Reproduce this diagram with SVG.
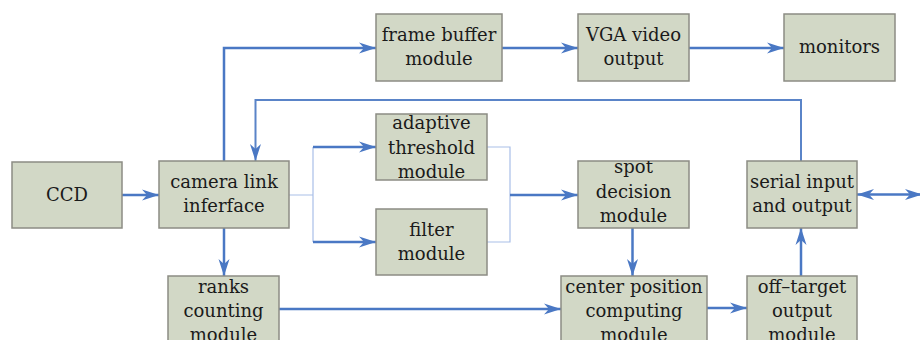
<svg xmlns="http://www.w3.org/2000/svg" width="920" height="340" viewBox="0 0 920 340">
<style>
.box{fill:#d2d8c6;stroke:#8c8c84;stroke-width:1.5}
.t{font-family:"DejaVu Serif","Liberation Serif",serif;font-size:18px;fill:#1a1a1a;text-anchor:middle}
.c{fill:none;stroke:#4a78c4;stroke-width:2.5}
.m{fill:none;stroke:#5a84c8;stroke-width:2}
.thin{fill:none;stroke:#a9bfe8;stroke-width:1.2}
</style>
<defs>
<marker id="ah" markerUnits="userSpaceOnUse" markerWidth="18" markerHeight="12" refX="17" refY="6" orient="auto">
<path d="M0,0.5 L17,6 L0,11.5 L5,6 Z" fill="#4a78c4"/>
</marker>
<marker id="ahs" markerUnits="userSpaceOnUse" markerWidth="18" markerHeight="12" refX="17" refY="6" orient="auto-start-reverse">
<path d="M0,0.5 L17,6 L0,11.5 L5,6 Z" fill="#4a78c4"/>
</marker>
<clipPath id="cAd"><rect x="376" y="114" width="111" height="66"/></clipPath>
<clipPath id="cSp"><rect x="578" y="161" width="111" height="67"/></clipPath>
<clipPath id="cRk"><rect x="168" y="276" width="111" height="70"/></clipPath>
<clipPath id="cCp"><rect x="561" y="276" width="146" height="70"/></clipPath>
<clipPath id="cOt"><rect x="747" y="276" width="110" height="70"/></clipPath>
</defs>

<g id="connectors">
<path class="c" d="M122,195 H159" marker-end="url(#ah)"/>
<path class="c" d="M224,161 V48 H376" marker-end="url(#ah)"/>
<path class="c" d="M502,48 H578" marker-end="url(#ah)"/>
<path class="c" d="M689,48 H784" marker-end="url(#ah)"/>
<path class="m" d="M801,161 V100 H255.5 V161" marker-end="url(#ah)"/>
<path class="thin" d="M289,195 H313 M313,147 V242"/>
<path class="c" d="M313,147 H376" marker-end="url(#ah)"/>
<path class="c" d="M313,242 H376" marker-end="url(#ah)"/>
<path class="thin" d="M487,147 H510 V242 H487"/>
<path class="c" d="M510,195 H578" marker-end="url(#ah)"/>
<path class="c" d="M224,228 V276" marker-end="url(#ah)"/>
<path class="c" d="M279,309 H561" marker-end="url(#ah)"/>
<path class="c" d="M632.5,228 V276" marker-end="url(#ah)"/>
<path class="c" d="M707,308 H747" marker-end="url(#ah)"/>
<path class="c" d="M801,276 V228" marker-end="url(#ah)"/>
<path class="c" d="M857,194.5 H922" marker-start="url(#ahs)" marker-end="url(#ah)"/>
</g>

<g id="ccd">
<rect class="box" x="12" y="162" width="110" height="66"/>
<text class="t" x="67" y="201">CCD</text>
</g>
<g id="camera-link">
<rect class="box" x="159" y="161" width="130" height="67"/>
<text class="t" x="224" y="188">camera link</text>
<text class="t" x="224" y="212">inferface</text>
</g>
<g id="frame-buffer">
<rect class="box" x="376" y="14" width="126" height="67"/>
<text class="t" x="439" y="41">frame buffer</text>
<text class="t" x="439" y="65">module</text>
</g>
<g id="vga">
<rect class="box" x="578" y="14" width="111" height="67"/>
<text class="t" x="633.5" y="41">VGA video</text>
<text class="t" x="633.5" y="65">output</text>
</g>
<g id="monitors">
<rect class="box" x="784" y="14" width="111" height="67"/>
<text class="t" x="839.5" y="53">monitors</text>
</g>
<g id="adaptive">
<rect class="box" x="376" y="114" width="111" height="66"/>
<g clip-path="url(#cAd)">
<text class="t" x="431.5" y="129">adaptive</text>
<text class="t" x="431.5" y="153.5">threshold</text>
<text class="t" x="431.5" y="178">module</text>
</g>
</g>
<g id="filter">
<rect class="box" x="376" y="209" width="111" height="66"/>
<text class="t" x="431.5" y="236">filter</text>
<text class="t" x="431.5" y="260">module</text>
</g>
<g id="spot">
<rect class="box" x="578" y="161" width="111" height="67"/>
<g clip-path="url(#cSp)">
<text class="t" x="633.5" y="173">spot</text>
<text class="t" x="633.5" y="197.5">decision</text>
<text class="t" x="633.5" y="222">module</text>
</g>
</g>
<g id="serial">
<rect class="box" x="747" y="161" width="110" height="67"/>
<text class="t" x="802" y="188">serial input</text>
<text class="t" x="802" y="212">and output</text>
</g>
<g id="ranks">
<rect class="box" x="168" y="276" width="111" height="70"/>
<g clip-path="url(#cRk)">
<text class="t" x="223.5" y="293">ranks</text>
<text class="t" x="223.5" y="317">counting</text>
<text class="t" x="223.5" y="341">module</text>
</g>
</g>
<g id="center">
<rect class="box" x="561" y="276" width="146" height="70"/>
<g clip-path="url(#cCp)">
<text class="t" x="634" y="293">center position</text>
<text class="t" x="634" y="317">computing</text>
<text class="t" x="634" y="341">module</text>
</g>
</g>
<g id="off-target">
<rect class="box" x="747" y="276" width="110" height="70"/>
<g clip-path="url(#cOt)">
<text class="t" x="802" y="293">off–target</text>
<text class="t" x="802" y="317">output</text>
<text class="t" x="802" y="341">module</text>
</g>
</g>
</svg>
